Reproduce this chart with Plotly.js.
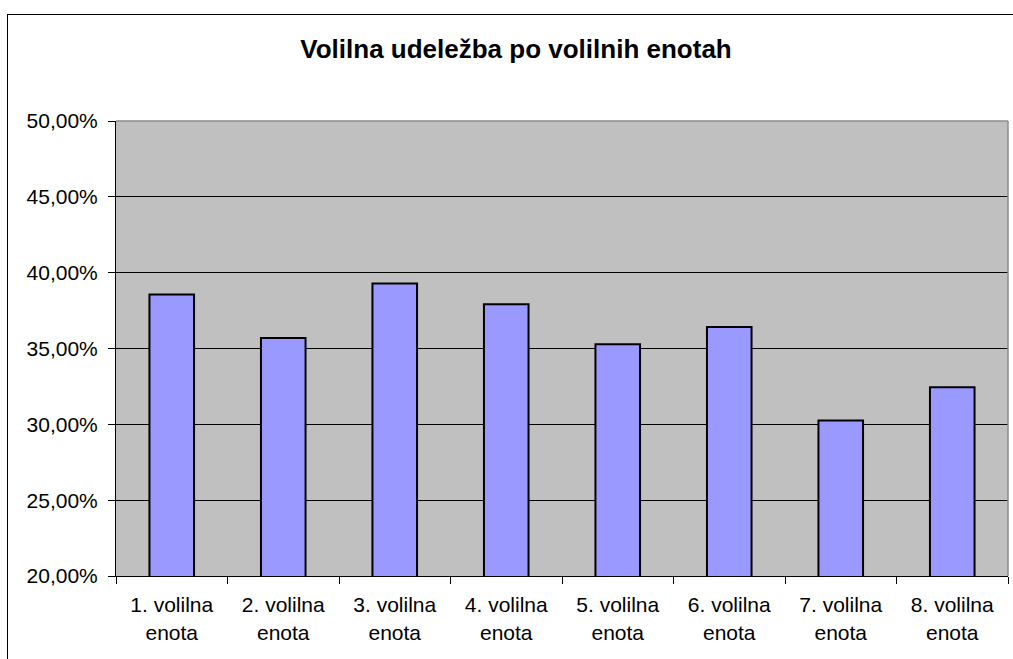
<!DOCTYPE html>
<html>
<head>
<meta charset="utf-8">
<script src="https://cdn.plot.ly/plotly-3.0.1.min.js"></script>
<style>
html,body{margin:0;padding:0;background:#fff;overflow:hidden;}
#wrap{position:relative;width:1013px;height:659px;overflow:hidden;}
#chart{width:1013px;height:659px;}
#frame{position:absolute;left:7px;top:14px;width:1100px;height:800px;border-left:1px solid #000;border-top:1px solid #000;pointer-events:none;}
</style>
</head>
<body>
<div id="wrap"><div id="chart"></div><div id="frame"></div></div>
<script>
var categories = ["1. volilna<br>enota","2. volilna<br>enota","3. volilna<br>enota","4. volilna<br>enota","5. volilna<br>enota","6. volilna<br>enota","7. volilna<br>enota","8. volilna<br>enota"];
var turnout = [0.3856, 0.3570, 0.3928, 0.3792, 0.3528, 0.3642, 0.3026, 0.3245];
var titleText = "Volilna udeležba po volilnih enotah";

var FONT = "Liberation Sans, Arial, sans-serif";
var L = 116, R = 5, T = 121, B = 83, W = 1013, H = 659;

var trace = {
  type: "bar",
  x: categories,
  y: turnout,
  width: 0.4,
  marker: {color: "#9999ff", line: {color: "#000000", width: 2}},
  hoverinfo: "none"
};

var layout = {
  width: W, height: H,
  margin: {l: L, r: R, t: T, b: B, pad: 0},
  paper_bgcolor: "#ffffff",
  plot_bgcolor: "#c0c0c0",
  separators: ",.",
  showlegend: false,
  title: {
    text: titleText,
    font: {family: FONT, size: 26, color: "#000000", weight: "bold"},
    x: 516 / W, xref: "container", xanchor: "center",
    y: 1 - 49 / H, yref: "container", yanchor: "middle"
  },
  xaxis: {
    type: "category",
    tickson: "boundaries",
    ticks: "outside", ticklen: 7, tickcolor: "#000000", tickwidth: 1,
    ticklabelstandoff: 10,
    showline: true, linecolor: "#000000", linewidth: 1,
    showgrid: false, zeroline: false,
    tickfont: {family: FONT, size: 21, color: "#000000"},
    fixedrange: true
  },
  yaxis: {
    range: [0.2, 0.5],
    dtick: 0.05, tick0: 0.2,
    tickformat: ".2%",
    ticks: "outside", ticklen: 7, tickcolor: "#000000", tickwidth: 1,
    ticklabelstandoff: 6,
    showline: true, linecolor: "#000000", linewidth: 1,
    showgrid: true, gridcolor: "#000000", gridwidth: 1,
    zeroline: false,
    tickfont: {family: FONT, size: 21, color: "#000000"},
    fixedrange: true
  },
  shapes: [
    {type: "line", xref: "paper", yref: "paper", x0: 0, x1: 1, y0: 1, y1: 1,
     line: {color: "#8c8c8c", width: 1.5}, layer: "above"},
    {type: "line", xref: "paper", yref: "paper", x0: 1, x1: 1, y0: 0, y1: 1,
     line: {color: "#8c8c8c", width: 1.5}, layer: "above"}
  ]
};

Plotly.newPlot("chart", [trace], layout, {displayModeBar: false, staticPlot: true});
</script>
</body>
</html>
